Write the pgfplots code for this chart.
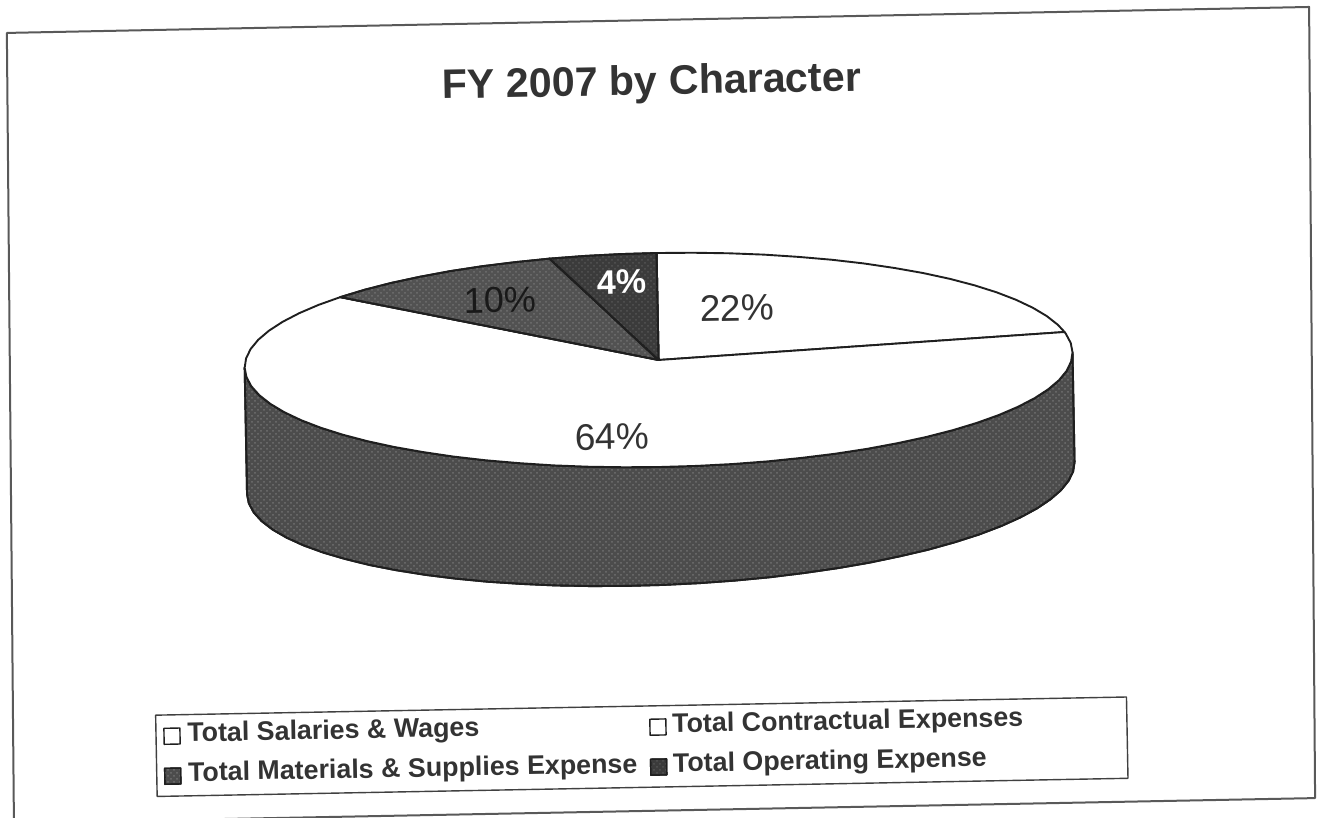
\documentclass[border=0pt]{standalone}
\usepackage{pgfplots}
\pgfplotsset{compat=1.18}
\usepackage{fontspec}
\setmainfont{Liberation Sans}
\usetikzlibrary{patterns}
\definecolor{ink}{gray}{0.2}
\definecolor{line}{gray}{0.12}
\definecolor{sidegray}{gray}{0.30}
\definecolor{tengray}{gray}{0.32}
\definecolor{fourgray}{gray}{0.23}
\definecolor{dotgray}{gray}{0.44}
\definecolor{dotgraydark}{gray}{0.33}
\begin{document}
\begin{tikzpicture}
\useasboundingbox (0,0) rectangle (659pt,409pt);
\clip (0,0) rectangle (659pt,409pt);
\begin{axis}[
  at={(329.5pt,204.5pt)}, anchor=center,
  x={(0.49991pt,0.00935pt)}, y={(0.00935pt,-0.49991pt)},
  xmin=0,xmax=1318,ymin=0,ymax=818,
  hide axis, clip=false, no markers,
  every axis plot/.append style={line join=round},
]
% frame
\addplot[draw=black!65,line width=1pt] coordinates {(14,20.8)(1316.5,19.2)(1307.7,810.3)(6.3,810.9)} --cycle;
% pie side
\addplot[draw=line,line width=0.95pt,fill=sidegray,postaction={pattern=crosshatch dots,pattern color=dotgray}] coordinates {
(245.5,360)(247.1,369.3)(251.8,378.6)(259.6,387.7)(270.5,396.6)(284.3,405.2)(301,413.5)(320.4,421.4)(342.4,428.8)(366.8,435.7)(393.4,442)(422,447.6)(452.5,452.7)(484.5,457)(517.9,460.5)(552.4,463.4)(587.6,465.4)(623.4,466.6)(659.5,467)(695.6,466.6)(731.4,465.4)(766.6,463.4)(801.1,460.5)(834.5,457)(866.5,452.7)(897,447.6)(925.6,442)(952.2,435.7)(976.6,428.8)(998.6,421.4)(1018,413.5)(1034.7,405.2)(1048.5,396.6)(1059.4,387.7)(1067.2,378.6)(1071.9,369.3)(1073.5,360)
(1073.5,469.7)(1071.9,479.1)(1067.2,488.4)(1059.4,497.7)(1048.5,506.8)(1034.7,515.7)(1018,524.3)(998.6,532.6)(976.6,540.5)(952.2,547.8)(925.6,554.7)(897,560.8)(866.5,566.6)(834.5,571.5)(801.1,575.7)(766.6,579.3)(731.4,582)(695.6,583.9)(659.5,585)(623.4,585.3)(587.6,584.8)(552.4,583.5)(517.9,581.3)(484.5,578.5)(452.5,574.8)(422,570.4)(393.4,565.3)(366.8,559.6)(342.4,553.1)(320.4,546.2)(301,538.7)(284.3,530.7)(270.5,522.4)(259.6,513.7)(251.8,504.8)(247.1,495.5)(245.5,486.3)
} --cycle;
% 22 % slice
\addplot[draw=line,line width=0.95pt,fill=white] coordinates {
(659.5,360)(659.5,253)(695.6,253.4)(731.4,254.6)(766.6,256.6)(801.1,259.5)(834.5,263)(866.5,267.3)(897,272.4)(925.6,278)(952.2,284.3)(976.6,291.2)(998.6,298.6)(1018,306.5)(1034.7,314.8)(1048.5,323.4)(1059.4,332.3)(1065.9,339.6)
} --cycle;
% 64 % slice
\addplot[draw=line,line width=0.95pt,fill=white] coordinates {
(659.5,360)(1065.9,339.6)(1067.2,341.4)(1071.9,350.7)(1073.5,360)(1071.9,369.3)(1067.2,378.6)(1059.4,387.7)(1048.5,396.6)(1034.7,405.2)(1018,413.5)(998.6,421.4)(976.6,428.8)(952.2,435.7)(925.6,442)(897,447.6)(866.5,452.7)(834.5,457)(801.1,460.5)(766.6,463.4)(731.4,465.4)(695.6,466.6)(659.5,467)(623.4,466.6)(587.6,465.4)(552.4,463.4)(517.9,460.5)(484.5,457)(452.5,452.7)(422,447.6)(393.4,442)(366.8,435.7)(342.4,428.8)(320.4,421.4)(301,413.5)(284.3,405.2)(270.5,396.6)(259.6,387.7)(251.8,378.6)(247.1,369.3)(245.5,360)(247.1,350.7)(251.8,341.4)(259.6,332.3)(270.5,323.4)(284.3,314.8)(301,306.5)(320.4,298.6)(342.4,291.2)
} --cycle;
% 10 % slice
\addplot[draw=line,line width=0.95pt,fill=tengray,postaction={pattern=crosshatch dots,pattern color=dotgray}] coordinates {
(659.5,360)(342.4,291.2)(366.8,284.3)(393.4,278)(422,272.4)(452.5,267.3)(484.5,263)(517.9,259.5)(552.4,256.6)
} --cycle;
% 4 % slice
\addplot[draw=line,line width=0.95pt,fill=fourgray,postaction={pattern=crosshatch dots,pattern color=dotgraydark}] coordinates {
(659.5,360)(552.4,256.6)(587.6,254.6)(623.4,253.4)(659.5,253)
} --cycle;
% title and data labels
\node[rotate=1.07,text=ink,font=\fontsize{20.6}{22}\selectfont\bfseries] at (axis cs:658,84) {FY 2007 by Character};
\node[rotate=1.07,text=ink,font=\fontsize{18.5}{20}\selectfont] at (axis cs:739,309.5) {22\%};
\node[rotate=1.07,text=ink,font=\fontsize{18.5}{20}\selectfont] at (axis cs:611.5,436) {64\%};
\node[rotate=1.07,text=black!90,font=\fontsize{18}{20}\selectfont] at (axis cs:502,297) {10\%};
\node[rotate=1.07,text=white,font=\fontsize{17}{20}\selectfont\bfseries] at (axis cs:624.4,281.3) {4\%};
% legend
\addplot[draw=black!75,line width=0.7pt,fill=white] coordinates {(150,705.7)(1121,705.7)(1121,787)(150,787)} --cycle;
\addplot[draw=line,line width=0.7pt,fill=white] coordinates {(158,719)(174,719)(174,735)(158,735)} --cycle;
\addplot[draw=line,line width=0.7pt,fill=white] coordinates {(644,719)(660,719)(660,735)(644,735)} --cycle;
\addplot[draw=line,line width=0.7pt,fill=sidegray,postaction={pattern=crosshatch dots,pattern color=dotgray}] coordinates {(158,759)(174,759)(174,775)(158,775)} --cycle;
\addplot[draw=line,line width=0.7pt,fill=fourgray,postaction={pattern=crosshatch dots,pattern color=dotgraydark}] coordinates {(644,759)(660,759)(660,775)(644,775)} --cycle;
\tikzset{legtext/.style={rotate=1.07,anchor=west,inner sep=0pt,text=ink,font=\fontsize{13.4}{15}\selectfont\bfseries}}
\node[legtext] at (axis cs:181,726) {Total Salaries \& Wages};
\node[legtext] at (axis cs:666,726) {Total Contractual Expenses};
\node[legtext] at (axis cs:181,765.5) {Total Materials \& Supplies Expense};
\node[legtext] at (axis cs:666,765.5) {Total Operating Expense};
\end{axis}
\end{tikzpicture}
\end{document}
